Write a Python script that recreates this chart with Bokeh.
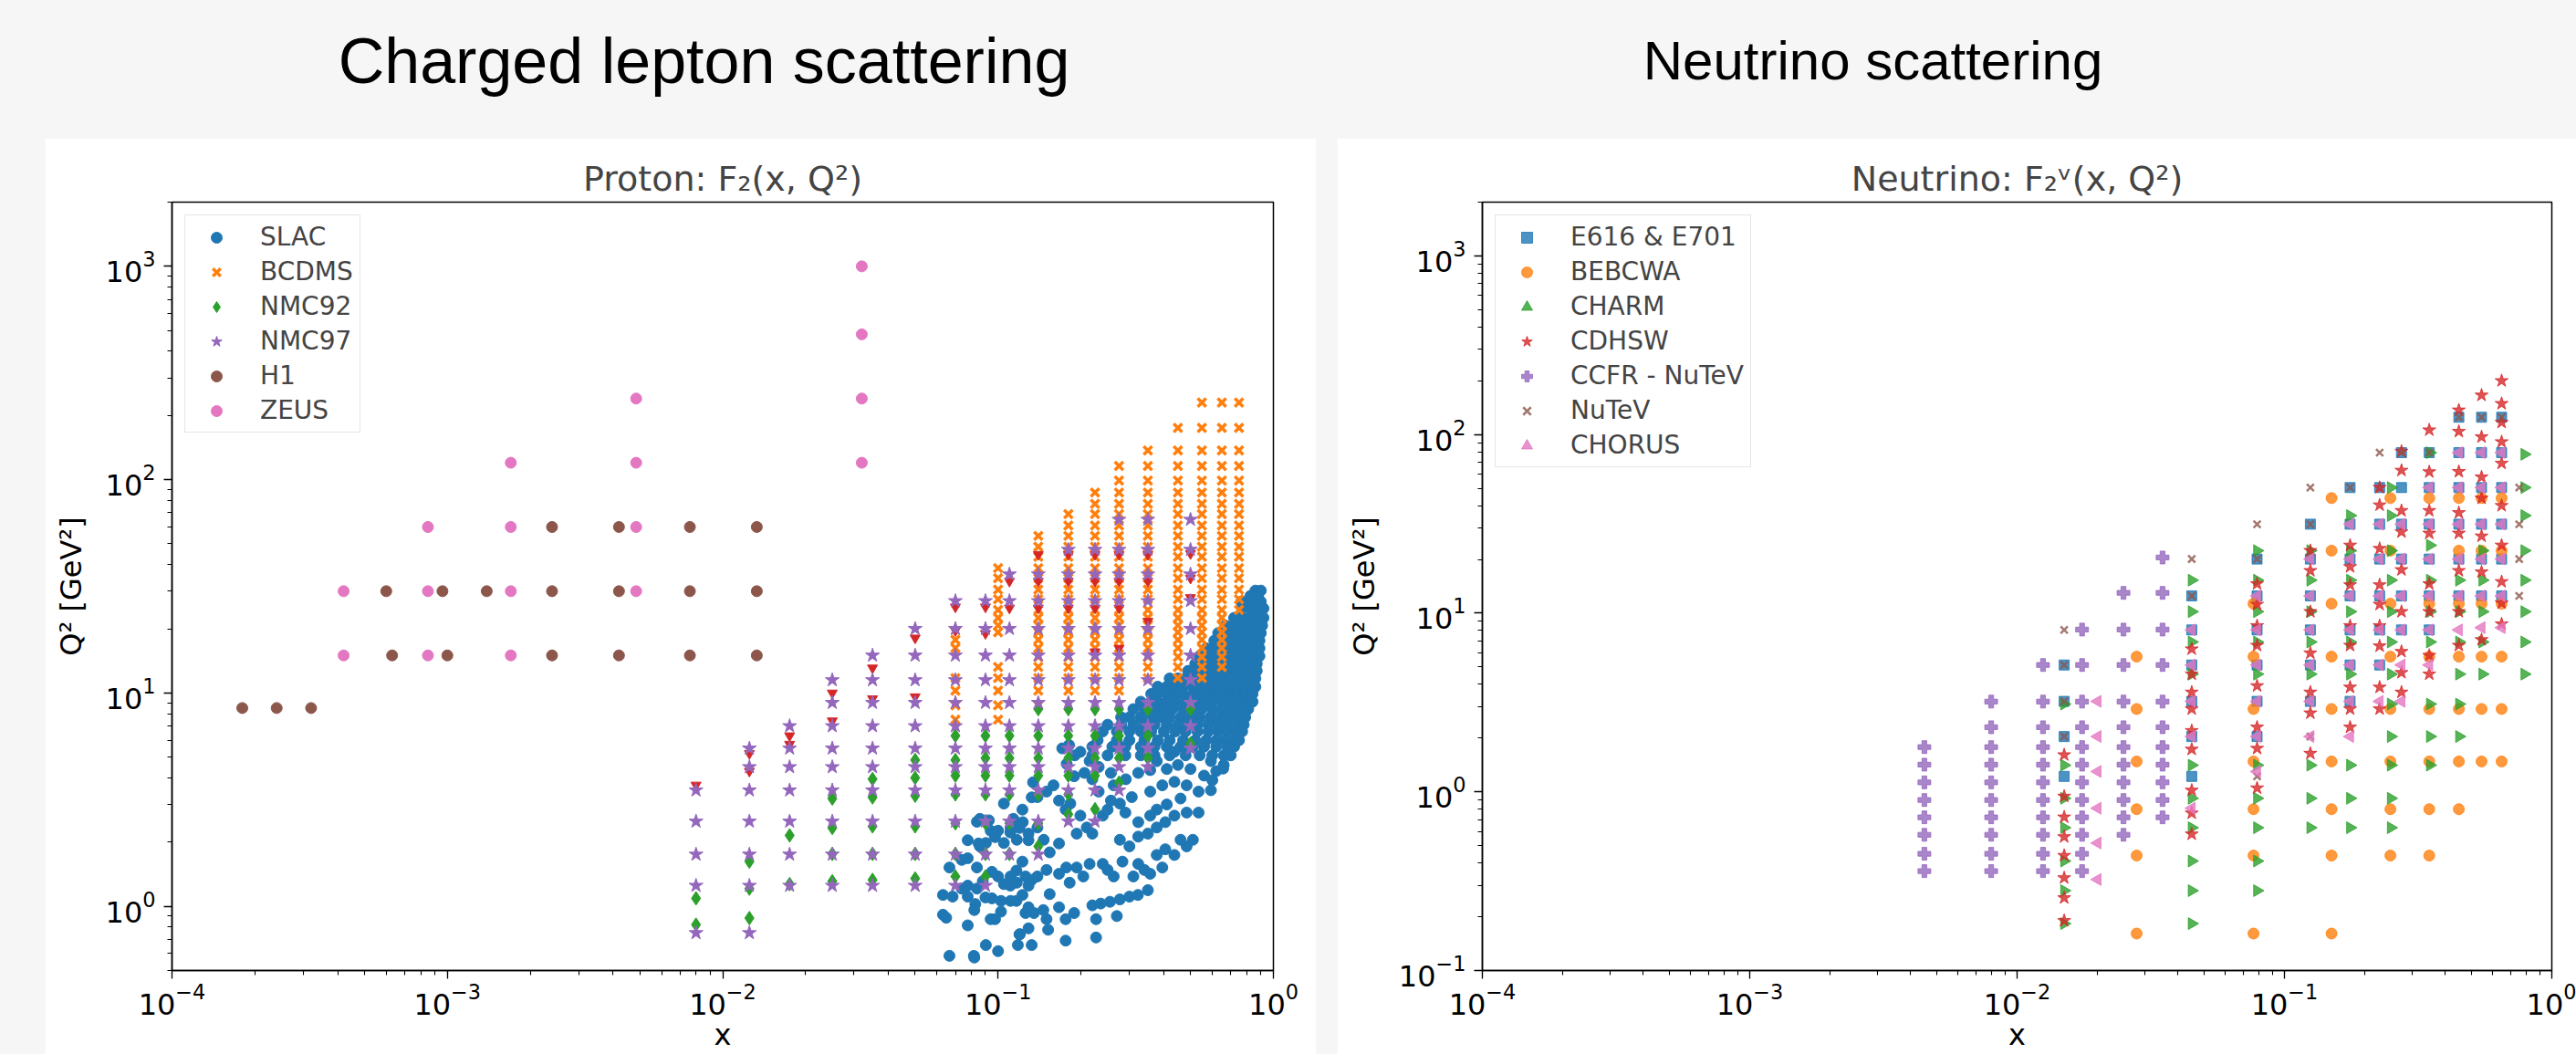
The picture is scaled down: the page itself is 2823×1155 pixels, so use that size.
import math
from bokeh.plotting import figure
from bokeh.models import Range1d, LogTicker, Legend, LegendItem, Label, Spacer
from bokeh.layouts import column, row
from bokeh.embed import file_html
from bokeh.resources import INLINE

GRAY = "#f6f6f6"
C0, C1, C2, C3, C4, C5, C6 = ("#1f77b4", "#ff7f0e", "#2ca02c", "#d62728",
                              "#9467bd", "#8c564b", "#e377c2")

# ---------------------------------------------------------------- left data
h1_x = [1.8e-4, 2.4e-4, 3.2e-4,
        6.3e-4, 1.0e-3, 2.4e-3, 4.2e-3, 7.6e-3, 1.33e-2,
        6.0e-4, 9.6e-4, 1.39e-3, 2.4e-3, 4.2e-3, 7.6e-3, 1.33e-2,
        2.4e-3, 4.2e-3, 7.6e-3, 1.33e-2]
h1_q2 = [8.5, 8.5, 8.5,
         15, 15, 15, 15, 15, 15,
         30, 30, 30, 30, 30, 30, 30,
         60, 60, 60, 60]

zeus_x = [4.2e-4, 8.5e-4, 1.7e-3,
          4.2e-4, 8.5e-4, 1.7e-3, 4.85e-3,
          8.5e-4, 1.7e-3, 4.85e-3,
          1.7e-3, 4.85e-3, 3.2e-2,
          4.85e-3, 3.2e-2, 3.2e-2, 3.2e-2]
zeus_q2 = [15, 15, 15,
           30, 30, 30, 30,
           60, 60, 60,
           120, 120, 120,
           240, 240, 480, 1000]

nmc97_cols = [
    (0.008, [0.75, 1.25, 1.75, 2.5, 3.5]),
    (0.0125, [0.75, 1.25, 1.75, 2.5, 3.5, 4.5, 5.5]),
    (0.0175, [1.25, 1.75, 2.5, 3.5, 4.5, 5.5, 7]),
    (0.025, [1.25, 1.75, 2.5, 3.5, 4.5, 5.5, 7, 9, 11.5]),
    (0.035, [1.25, 1.75, 2.5, 3.5, 4.5, 5.5, 7, 9, 11.5, 15]),
    (0.05, [1.25, 1.75, 2.5, 3.5, 4.5, 5.5, 7, 9, 11.5, 15, 20]),
    (0.07, [1.25, 1.75, 2.5, 3.5, 4.5, 5.5, 7, 9, 11.5, 15, 20, 27]),
    (0.09, [1.25, 1.75, 2.5, 3.5, 4.5, 5.5, 7, 9, 11.5, 15, 20, 27]),
    (0.11, [1.75, 2.5, 3.5, 4.5, 5.5, 7, 9, 11.5, 15, 20, 27, 36]),
    (0.14, [1.75, 2.5, 3.5, 4.5, 5.5, 7, 9, 11.5, 15, 20, 27, 36]),
    (0.18, [2.5, 3.5, 4.5, 5.5, 7, 9, 11.5, 15, 20, 27, 36, 47]),
    (0.225, [2.5, 3.5, 4.5, 5.5, 7, 9, 11.5, 15, 20, 27, 36, 47]),
    (0.275, [3.5, 4.5, 5.5, 7, 9, 11.5, 15, 20, 27, 36, 47, 65]),
    (0.35, [4.5, 5.5, 7, 9, 11.5, 15, 20, 27, 36, 47, 65]),
    (0.5, [5.5, 7, 9, 11.5, 15, 20, 27, 36, 47, 65]),
]

nmc92_cols = [
    (0.008, [0.82, 1.09]),
    (0.0125, [0.88, 1.21, 1.62]),
    (0.0175, [1.27, 2.15]),
    (0.025, [1.31, 1.76, 2.33, 3.2]),
    (0.035, [1.33, 1.76, 2.37, 3.24, 3.95]),
    (0.05, [1.35, 1.76, 2.37, 3.3, 4.0, 4.85]),
    (0.07, [1.38, 1.76, 2.45, 3.35, 4.1, 4.85, 6.3]),
    (0.09, [1.38, 1.76, 2.45, 3.35, 4.1, 4.95, 6.3]),
    (0.11, [1.76, 2.45, 3.35, 4.1, 4.95, 6.3]),
    (0.14, [1.91, 2.45, 3.35, 4.1, 4.95, 6.3, 8.4]),
    (0.18, [2.7, 3.35, 4.1, 4.95, 6.3, 8.4]),
    (0.225, [2.85, 4.1, 4.95, 6.3, 8.4]),
    (0.275, [3.8, 4.95, 6.3, 8.4]),
    (0.35, [4.95, 6.3, 8.4]),
    (0.5, [5.8, 8.4]),
]

# red triangles drawn without a legend entry
red_x = [0.008, 0.0125, 0.0125, 0.0175, 0.0175, 0.025, 0.025, 0.035, 0.035,
         0.05, 0.05, 0.07, 0.07, 0.09, 0.09, 0.11, 0.11, 0.14, 0.14, 0.14,
         0.18, 0.18, 0.18, 0.225, 0.225, 0.225, 0.225, 0.275, 0.275, 0.275,
         0.275, 0.35, 0.35, 0.35, 0.5, 0.5, 0.5]
red_q2 = [3.7, 5.2, 4.3, 6.3, 5.75, 10.0, 7.4, 13.1, 9.4,
          18.1, 9.6, 25.3, 19.6, 25.3, 19.0, 33.4, 25, 44.6, 33.4, 25,
          44.6, 33.4, 25, 44.6, 33.4, 25, 15.6, 44.6, 33.4, 25,
          16.2, 44.6, 33.4, 21.7, 45, 34.5, 28]

bcdms_cols = [
    (0.07, [7.5, 8.75, 10.25, 11.75, 16.25, 17.75]),
    (0.10, [7.5, 8.75, 10.25, 11.75, 13.25, 19.25, 20.75, 22.5, 24.5, 27.5,
            30.5, 34.5, 38.5]),
    (0.14, [8.75, 10.25, 11.75, 13.25, 14.75, 16.25, 17.75, 19.25, 20.75,
            22.5, 24.5, 27.5, 30.5, 34.5, 38.5, 43.5, 48.5, 54.5]),
    (0.18, [10.25, 11.75, 13.25, 14.75, 16.25, 17.75, 19.25, 20.75, 22.5,
            24.5, 27.5, 30.5, 34.5, 38.5, 43.5, 48.5, 54.5, 61, 69]),
    (0.225, [10.25, 11.75, 13.25, 14.75, 16.25, 17.75, 19.25, 20.75, 22.5,
             24.5, 27.5, 30.5, 34.5, 38.5, 43.5, 48.5, 54.5, 61, 69, 77, 87]),
    (0.275, [10.25, 11.75, 13.25, 14.75, 16.25, 17.75, 19.25, 20.75, 22.5,
             24.5, 27.5, 30.5, 34.5, 38.5, 43.5, 48.5, 54.5, 61, 69, 77, 87,
             99, 116]),
    (0.35, [11.75, 13.25, 14.75, 16.25, 17.75, 19.25, 20.75, 22.5, 24.5,
            27.5, 30.5, 34.5, 38.5, 43.5, 48.5, 54.5, 61, 69, 77, 87, 99,
            116, 137]),
    (0.45, [11.75, 13.25, 14.75, 16.25, 17.75, 19.25, 20.75, 22.5, 24.5,
            27.5, 30.5, 34.5, 38.5, 43.5, 48.5, 54.5, 61, 69, 77, 87, 99,
            116, 137, 175]),
    (0.55, [11.75, 13.25, 14.75, 16.25, 17.75, 19.25, 20.75, 22.5, 24.5,
            27.5, 30.5, 34.5, 38.5, 43.5, 48.5, 54.5, 61, 69, 77, 87, 99,
            116, 137, 175, 230]),
    (0.65, [13.25, 14.75, 16.25, 17.75, 19.25, 20.75, 22.5, 24.5, 27.5,
            30.5, 34.5, 38.5, 43.5, 48.5, 54.5, 61, 69, 77, 87, 99, 116, 137,
            175, 230]),
    (0.75, [24.5, 27.5, 30.5, 34.5, 38.5, 43.5, 48.5, 54.5, 61, 69, 77, 87,
            99, 116, 137, 175, 230]),
]

# SLAC: dense band read row by row, then the scattered points below it
slac_rows = [
    (30.2, [0.86, 0.90]),
    (28.5, [0.825, 0.88]),
    (26.8, [0.765, 0.80, 0.85, 0.90]),
    (24.9, [0.77, 0.82, 0.87, 0.92]),
    (22.5, [0.72, 0.77, 0.82, 0.87, 0.92]),
    (20.7, [0.67, 0.72, 0.77, 0.82, 0.87, 0.91]),
    (19.1, [0.63, 0.67, 0.72, 0.77, 0.82, 0.87, 0.90]),
    (17.6, [0.61, 0.65, 0.69, 0.74, 0.79, 0.84, 0.89]),
    (16.2, [0.57, 0.61, 0.65, 0.69, 0.74, 0.79, 0.84, 0.89]),
    (14.9, [0.54, 0.58, 0.62, 0.66, 0.71, 0.76, 0.81, 0.86, 0.89]),
    (13.7, [0.52, 0.55, 0.59, 0.63, 0.67, 0.72, 0.77, 0.82, 0.87]),
    (12.7, [0.49, 0.52, 0.56, 0.60, 0.64, 0.68, 0.73, 0.78, 0.83, 0.87]),
    (11.7, [0.42, 0.45, 0.48, 0.52, 0.56, 0.60, 0.64, 0.69, 0.74, 0.79,
            0.84, 0.86]),
    (10.7, [0.38, 0.41, 0.44, 0.47, 0.51, 0.55, 0.59, 0.63, 0.68, 0.73,
            0.78, 0.83, 0.86]),
    (9.9, [0.36, 0.38, 0.41, 0.44, 0.47, 0.51, 0.55, 0.59, 0.64, 0.69, 0.74,
           0.79, 0.84]),
    (9.1, [0.33, 0.36, 0.38, 0.41, 0.44, 0.48, 0.52, 0.56, 0.60, 0.65, 0.70,
           0.75, 0.80, 0.84]),
    (8.4, [0.31, 0.34, 0.37, 0.40, 0.43, 0.47, 0.51, 0.55, 0.60, 0.65, 0.70,
           0.75, 0.81]),
    (7.7, [0.28, 0.30, 0.33, 0.36, 0.39, 0.42, 0.46, 0.50, 0.54, 0.59, 0.64,
           0.69, 0.74, 0.79]),
    (7.1, [0.25, 0.28, 0.31, 0.34, 0.37, 0.41, 0.45, 0.49, 0.53, 0.58, 0.63,
           0.68, 0.74, 0.78]),
    (6.6, [0.24, 0.27, 0.30, 0.33, 0.36, 0.40, 0.44, 0.48, 0.53, 0.58, 0.63,
           0.68, 0.73, 0.77]),
    (6.0, [0.23, 0.27, 0.30, 0.34, 0.38, 0.42, 0.47, 0.52, 0.57, 0.62, 0.67,
           0.72, 0.75]),
    (5.6, [0.22, 0.26, 0.29, 0.33, 0.37, 0.41, 0.46, 0.51, 0.56, 0.62, 0.68,
           0.72]),
    (5.1, [0.19, 0.22, 0.25, 0.29, 0.33, 0.37, 0.42, 0.48, 0.54, 0.60, 0.66,
           0.70]),
]
slac_points = [
    (0.0666, 1.52), (0.0776, 2.04), (0.0838, 2.49), (0.0859, 2.57),
    (0.0926, 2.53), (0.100, 2.26), (0.105, 3.03), (0.1137, 2.57),
    (0.1226, 2.84), (0.1325, 3.24), (0.134, 3.81), (0.0738, 1.65),
    (0.0776, 1.68), (0.0838, 1.52), (0.0859, 1.91), (0.0903, 1.98),
    (0.0975, 2.11), (0.105, 1.98), (0.1108, 2.22), (0.1196, 2.33),
    (0.129, 2.04), (0.1226, 1.62), (0.1166, 1.47), (0.100, 1.38),
    (0.095, 1.45), (0.088, 1.31), (0.0838, 1.21), (0.0776, 1.25),
    (0.0738, 1.21), (0.105, 1.27), (0.1108, 1.25), (0.1258, 1.38),
    (0.1325, 1.33), (0.0631, 1.13), (0.0684, 1.11), (0.0776, 1.11),
    (0.0827, 1.025), (0.095, 1.09), (0.1025, 1.06), (0.1166, 1.06),
    (0.1226, 1.13), (0.129, 0.99), (0.0631, 0.913), (0.0648, 0.884),
    (0.1025, 0.944), (0.1258, 0.93), (0.0776, 0.814), (0.0975, 0.87),
    (0.1196, 0.738), (0.129, 0.788), (0.0903, 0.658), (0.0666, 0.586),
    (0.0817, 0.586), (0.100, 0.616), (0.1325, 0.658),
    (0.082, 0.575), (0.118, 0.658), (0.152, 0.776), (0.176, 0.69),
    (0.12, 0.74), (0.15, 0.87), (0.176, 0.87), (0.189, 0.93),
    (0.227, 0.714), (0.27, 0.90), (0.227, 0.87), (0.22, 1.01),
    (0.236, 1.03), (0.255, 1.05), (0.277, 1.077), (0.30, 1.11),
    (0.322, 1.13), (0.35, 1.19), (0.1665, 0.99), (0.154, 1.14),
    (0.135, 0.93), (0.146, 0.96), (0.111, 1.06), (0.094, 0.87),
    (0.082, 0.96), (0.090, 1.10),
    (0.111, 1.38), (0.117, 1.29), (0.129, 1.25), (0.139, 1.38),
    (0.150, 1.48), (0.1665, 1.42), (0.177, 1.52), (0.182, 1.29),
    (0.204, 1.38), (0.193, 1.52), (0.215, 1.58), (0.24, 1.58),
    (0.25, 1.48), (0.263, 1.38), (0.283, 1.62), (0.31, 1.38),
    (0.323, 1.58), (0.34, 1.48), (0.377, 1.74), (0.405, 1.85),
    (0.46, 2.05), (0.277, 2.05), (0.30, 1.91), (0.323, 2.12),
    (0.35, 2.19), (0.377, 2.34), (0.405, 2.48), (0.437, 2.66),
    (0.484, 2.75), (0.535, 2.75), (0.085, 1.97), (0.094, 2.26),
    (0.111, 2.34), (0.117, 2.05), (0.123, 2.48), (0.129, 2.19),
    (0.139, 2.34), (0.1465, 2.05), (0.154, 1.79), (0.1665, 1.97),
    (0.139, 3.25), (0.150, 3.45), (0.159, 3.69), (0.1665, 3.13),
    (0.176, 2.84), (0.183, 3.03), (0.199, 2.66), (0.21, 2.34),
    (0.193, 2.19), (0.22, 2.19), (0.24, 2.66), (0.25, 2.84),
    (0.257, 3.13), (0.277, 3.03), (0.29, 2.75), (0.306, 3.25),
    (0.263, 3.69), (0.232, 3.45), (0.22, 3.94), (0.206, 4.22),
    (0.189, 4.07), (0.1775, 4.65), (0.171, 5.5), (0.181, 5.7),
    (0.199, 5.3), (0.215, 4.8), (0.232, 4.5), (0.257, 4.22),
    (0.291, 3.94), (0.323, 4.22), (0.357, 4.35), (0.377, 4.79),
    (0.437, 5.3), (0.484, 5.5), (0.593, 4.79), (0.657, 4.42),
    (0.69, 5.13), (0.357, 3.45), (0.395, 3.69), (0.437, 3.83),
    (0.484, 3.69), (0.535, 3.45), (0.593, 3.5), (0.377, 2.84),
    (0.357, 2.66), (0.323, 2.48), (0.395, 1.52), (0.357, 1.42),
    (0.437, 1.74), (0.484, 1.91), (0.51, 2.05), (0.56, 4.1),
    (0.62, 4.3), (0.50, 4.4), (0.45, 4.6), (0.41, 4.4), (0.60, 3.9),
    (0.66, 4.6), (0.46, 3.2), (0.41, 3.0),
]

# ---------------------------------------------------------------- right data
e616_cols = [
    (0.015, [1.22, 2.04, 3.21, 5.13]),
    (0.045, [1.22, 2.04, 3.21, 5.13, 8.06, 12.5]),
    (0.079, [2.04, 3.21, 5.13, 8.06, 12.5, 20.1]),
    (0.125, [3.21, 5.13, 8.06, 12.5, 20.1, 31.5]),
    (0.176, [3.21, 5.13, 8.06, 12.5, 20.1, 31.5, 50.5]),
    (0.227, [5.13, 8.06, 12.5, 20.1, 31.5, 50.5]),
    (0.274, [8.06, 12.5, 20.1, 31.5, 50.5, 79.2]),
    (0.348, [8.06, 12.5, 20.1, 31.5, 50.5, 79.2]),
    (0.449, [12.5, 20.1, 31.5, 50.5, 79.2, 125]),
    (0.546, [12.5, 20.1, 31.5, 50.5, 79.2, 125]),
    (0.649, [12.5, 20.1, 31.5, 50.5, 79.2, 125]),
]
bebc_cols = [
    (0.028, [0.161, 0.44, 0.80, 1.48, 2.91, 5.71]),
    (0.0766, [0.161, 0.44, 0.80, 1.48, 2.91, 5.71, 11.3]),
    (0.15, [0.161, 0.44, 0.80, 1.48, 2.91, 5.71, 11.3, 22.4, 44.1]),
    (0.249, [0.44, 0.80, 1.48, 2.91, 5.71, 11.3, 22.4, 44.1]),
    (0.348, [0.44, 0.80, 1.48, 2.91, 5.71, 11.3, 44.1]),
    (0.449, [0.80, 1.48, 2.91, 5.71, 11.3, 22.4, 44.1]),
    (0.546, [1.48, 2.91, 5.71, 11.3, 22.4, 44.1]),
    (0.649, [1.48, 2.91, 5.71, 11.3, 22.4, 44.1]),
]
charm_cols = [
    (0.015, [0.183, 0.28, 0.41, 0.63, 0.92, 1.41, 3.1]),
    (0.045, [0.183, 0.28, 0.41, 0.63, 0.92, 1.41, 4.56, 6.9, 10.2, 15.3]),
    (0.079, [0.28, 0.41, 0.63, 0.92, 1.41, 4.56, 6.9, 10.2, 15.3, 22.4]),
    (0.125, [0.63, 0.92, 1.41, 4.56, 6.9, 10.2, 15.3, 22.4]),
    (0.176, [0.63, 0.92, 1.41, 4.56, 6.9, 10.2, 15.3, 22.4, 35.2]),
    (0.25, [0.63, 0.92, 1.41, 2.04, 3.1, 4.56, 6.9, 10.2, 15.3, 22.4, 35.2,
            50.5]),
    (0.35, [1.41, 2.04, 3.1, 6.9, 10.2, 15.3, 24, 79.2]),
    (0.45, [2.04, 3.1, 4.56, 6.9, 10.2, 15.3]),
    (0.55, [4.56, 6.9, 10.2, 15.3, 22.4]),
    (0.79, [4.56, 6.9, 10.2, 15.3, 22.4, 35.2, 50.5, 77.5]),
]
cdhsw_cols = [
    (0.015, [0.19, 0.255, 0.33, 0.44, 0.56, 0.722, 0.944, 1.61]),
    (0.045, [0.58, 0.76, 1.02, 1.73, 2.2, 2.91, 3.61, 4.56, 6.3]),
    (0.079, [1.05, 1.75, 2.3, 3.92, 6.6, 8.5, 11.2, 14.6]),
    (0.125, [1.64, 2.76, 3.61, 5.98, 10.2, 17.3, 22.4]),
    (0.176, [2.3, 2.91, 3.85, 6.6, 8.5, 14.4, 18.2, 24]),
    (0.227, [2.91, 3.85, 6.55, 8.5, 11.2, 14.4, 23, 40.3, 50.5]),
    (0.274, [3.61, 4.65, 6.1, 10.2, 17.5, 28.5, 37.5, 63, 80.5]),
    (0.348, [4.56, 5.8, 10.2, 14.6, 28, 37.5, 61.8, 106]),
    (0.449, [6.6, 10.2, 17.3, 28, 36.5, 62, 104, 137]),
    (0.546, [7.1, 17, 27, 44, 57.8, 97, 166]),
    (0.649, [8.7, 11.4, 15, 24, 40, 69, 91, 117, 149, 200]),
]
ccfr_cols = [
    (0.0045, [0.36, 0.45, 0.575, 0.72, 0.9, 1.13, 1.42, 1.78]),
    (0.008, [0.36, 0.45, 0.575, 0.72, 0.9, 1.13, 1.42, 1.78, 2.3, 3.2]),
    (0.0125, [0.36, 0.45, 0.575, 0.72, 0.9, 1.13, 1.42, 1.78, 2.3, 3.2,
              5.13]),
    (0.0175, [0.36, 0.45, 0.575, 0.72, 0.9, 1.13, 1.42, 1.78, 2.3, 3.2,
              5.13, 8.1]),
    (0.025, [0.575, 0.72, 0.9, 1.13, 1.42, 1.78, 2.3, 3.2, 5.13, 8.1, 13]),
    (0.035, [0.72, 0.9, 1.13, 1.42, 1.78, 2.3, 3.2, 5.13, 8.1, 13, 20.5]),
]
nutev_x = [0.015, 0.015, 0.015, 0.015, 0.045, 0.045, 0.079, 0.079, 0.079,
           0.125, 0.125, 0.125, 0.176, 0.227, 0.274, 0.348, 0.449, 0.546,
           0.649, 0.755, 0.755, 0.755, 0.755]
nutev_q2 = [8.06, 5.13, 3.21, 2.04, 20.1, 12.5, 31.5, 20.1, 1.22,
            50.5, 31.5, 2.04, 50.5, 79.2, 79.2, 79.2, 125, 125,
            125, 50.5, 31.5, 20.1, 12.5]
chorus_cols = [
    (0.020, [0.323, 0.517, 0.81, 1.30, 2.04, 3.21]),
    (0.045, [0.81, 2.04, 3.21, 5.13, 8.06]),
    (0.079, [1.30, 2.04, 3.21, 5.13, 8.06, 12.5]),
    (0.125, [2.04, 3.21, 5.13, 8.06, 12.5, 20.1]),
    (0.176, [2.04, 3.21, 5.13, 8.06, 12.5, 20.1, 31.5]),
    (0.227, [3.21, 5.13, 8.06, 12.5, 20.1, 31.5]),
    (0.274, [3.21, 5.13, 8.06, 12.5, 20.1, 31.5]),
    (0.348, [5.13, 8.06, 12.5, 20.1, 31.5, 50.5]),
    (0.449, [8.06, 12.5, 20.1, 31.5, 50.5, 79.2]),
    (0.546, [8.3, 12.5, 20.1, 31.5, 50.5, 79.2]),
    (0.649, [8.3, 12.5, 20.1, 31.5, 50.5, 79.2]),
]


def flat(cols):
    xs, qs = [], []
    for xv, ql in cols:
        for q in ql:
            xs.append(xv)
            qs.append(q)
    return xs, qs


def flat_rows(rows):
    xs, qs = [], []
    for q, xl in rows:
        for xv in xl:
            xs.append(xv)
            qs.append(q)
    return xs, qs


# ---------------------------------------------------------------- panels
def make_panel(width, height, left, right, top, bottom, y0, y1, title):
    p = figure(width=width, height=height, x_axis_type="log",
               y_axis_type="log", x_range=Range1d(1e-4, 1),
               y_range=Range1d(y0, y1), title=title,
               output_backend="svg", toolbar_location=None,
               min_border_left=left, min_border_right=right,
               min_border_top=top, min_border_bottom=bottom)
    p.grid.visible = False
    p.background_fill_color = "white"
    p.border_fill_color = "white"
    p.outline_line_color = "black"
    p.outline_line_width = 1.5
    for ax in (p.xaxis, p.yaxis):
        ax.ticker = LogTicker(num_minor_ticks=10)
        ax.axis_line_color = "black"
        ax.axis_line_width = 1.5
        ax.major_tick_out = 9
        ax.major_tick_in = 0
        ax.minor_tick_out = 5
        ax.minor_tick_in = 0
        ax.major_tick_line_width = 1.3
        ax.minor_tick_line_width = 1.1
        ax.major_label_text_font = "DejaVu Sans"
        ax.major_label_text_font_size = "32px"
        ax.major_label_text_color = "black"
        ax.axis_label_text_font = "DejaVu Sans"
        ax.axis_label_text_font_size = "32px"
        ax.axis_label_text_font_style = "normal"
        ax.axis_label_text_color = "black"
    p.xaxis.major_label_standoff = 4
    p.yaxis.major_label_standoff = 9
    p.xaxis.axis_label = "x"
    p.yaxis.axis_label = "Q² [GeV²]"
    p.xaxis.axis_label_standoff = 0
    p.yaxis.axis_label_standoff = 16
    p.title.text_font = "DejaVu Sans"
    p.title.text_font_size = "38px"
    p.title.text_font_style = "normal"
    p.title.align = "center"
    p.title.standoff = 7
    return p


def style_legend(items):
    lg = Legend(items=items, location="top_left", margin=14, padding=7,
                spacing=5, glyph_width=54, glyph_height=30, label_height=30,
                label_standoff=21, label_text_font="DejaVu Sans",
                label_text_font_size="28px", border_line_color="#cccccc",
                border_line_width=1.5, background_fill_alpha=0.8)
    return lg


# left panel: page x 49..1442, y 151..1155
pl = make_panel(1393, 1004, 139, 47, 70, 92, 0.5, 2000, "Proton: F₂(x, Q²)")
sx, sq = flat_rows(slac_rows)
sx += [pt[0] for pt in slac_points]
sq += [pt[1] for pt in slac_points]
r_slac = pl.scatter(sx, sq, marker="circle", size=12, fill_color=C0,
                    line_color=C0)
bx, bq = flat(bcdms_cols)
r_bcdms = pl.scatter(bx, bq, marker="x", size=13, line_color=C1,
                     line_width=3.5)
pl.scatter(red_x, red_q2, marker="inverted_triangle", size=11,
           fill_color=C3, line_color=C3)
n2x, n2q = flat(nmc92_cols)
r_n92 = pl.scatter(n2x, n2q, marker="diamond", size=15, fill_color=C2,
                   line_color=C2)
n7x, n7q = flat(nmc97_cols)
r_n97 = pl.scatter(n7x, n7q, marker="star", size=16, fill_color=C4,
                   line_color=C4)
r_h1 = pl.scatter(h1_x, h1_q2, marker="circle", size=12, fill_color=C5,
                  line_color=C5)
r_zeus = pl.scatter(zeus_x, zeus_q2, marker="circle", size=12,
                    fill_color=C6, line_color=C6)
pl.add_layout(style_legend([
    LegendItem(label="SLAC", renderers=[r_slac]),
    LegendItem(label="BCDMS", renderers=[r_bcdms]),
    LegendItem(label="NMC92", renderers=[r_n92]),
    LegendItem(label="NMC97", renderers=[r_n97]),
    LegendItem(label="H1", renderers=[r_h1]),
    LegendItem(label="ZEUS", renderers=[r_zeus]),
]))

# right panel: page x 1465..2823
pr = make_panel(1358, 1004, 159, 27, 70, 92, 0.1, 2000,
                "Neutrino: F₂ᵛ(x, Q²)")
A = 0.8
ex, eq = flat(e616_cols)
r_e = pr.scatter(ex, eq, marker="square", size=11, fill_color=C0,
                 line_color=C0, alpha=A)
bbx, bbq = flat(bebc_cols)
r_b = pr.scatter(bbx, bbq, marker="circle", size=12, fill_color=C1,
                 line_color=C1, alpha=A)
cx, cq = flat(charm_cols)
r_c = pr.scatter(cx, cq, marker="triangle", angle=-math.pi / 2, size=13,
                 fill_color=C2, line_color=C2, alpha=A)
dx, dq = flat(cdhsw_cols)
r_d = pr.scatter(dx, dq, marker="star", size=15, fill_color=C3,
                 line_color=C3, alpha=A)
fx, fq = flat(ccfr_cols)
r_f = pr.scatter(fx, fq, marker="plus", size=14, fill_color=C4,
                 line_color=C4, alpha=A)
r_n = pr.scatter(nutev_x, nutev_q2, marker="x", size=11, line_color=C5,
                 line_width=2.5, alpha=A)
hx, hq = flat(chorus_cols)
r_h = pr.scatter(hx, hq, marker="triangle", angle=math.pi / 2, size=13,
                 fill_color=C6, line_color=C6, alpha=A)
pr.add_layout(style_legend([
    LegendItem(label="E616 & E701", renderers=[r_e]),
    LegendItem(label="BEBCWA", renderers=[r_b]),
    LegendItem(label="CHARM", renderers=[r_c]),
    LegendItem(label="CDHSW", renderers=[r_d]),
    LegendItem(label="CCFR - NuTeV", renderers=[r_f]),
    LegendItem(label="NuTeV", renderers=[r_n]),
    LegendItem(label="CHORUS", renderers=[r_h]),
]))

# header with the two big titles (page y 0..151)
hdr = figure(width=2823, height=151, x_range=Range1d(0, 2823),
             y_range=Range1d(151, 0), output_backend="svg", title=None,
             toolbar_location=None, min_border=0,
             x_axis_location=None, y_axis_location=None)
hdr.grid.visible = False
hdr.outline_line_color = None
hdr.background_fill_color = GRAY
hdr.border_fill_color = GRAY
for txt, cx_, fs in (("Charged lepton scattering", 771, "70px"),
                     ("Neutrino scattering", 2052, "60px")):
    hdr.add_layout(Label(x=cx_, y=66, text=txt, text_align="center",
                         text_baseline="alphabetic",
                         text_font="Liberation Sans",
                         text_font_size=fs, text_color="black"))

body = row(Spacer(width=49, height=1004, styles={"background-color": GRAY}),
           pl,
           Spacer(width=23, height=1004, styles={"background-color": GRAY}),
           pr, styles={"background-color": GRAY})
layout = column(hdr, body, styles={"background-color": GRAY})

open("out.html", "w").write(file_html(layout, INLINE))
